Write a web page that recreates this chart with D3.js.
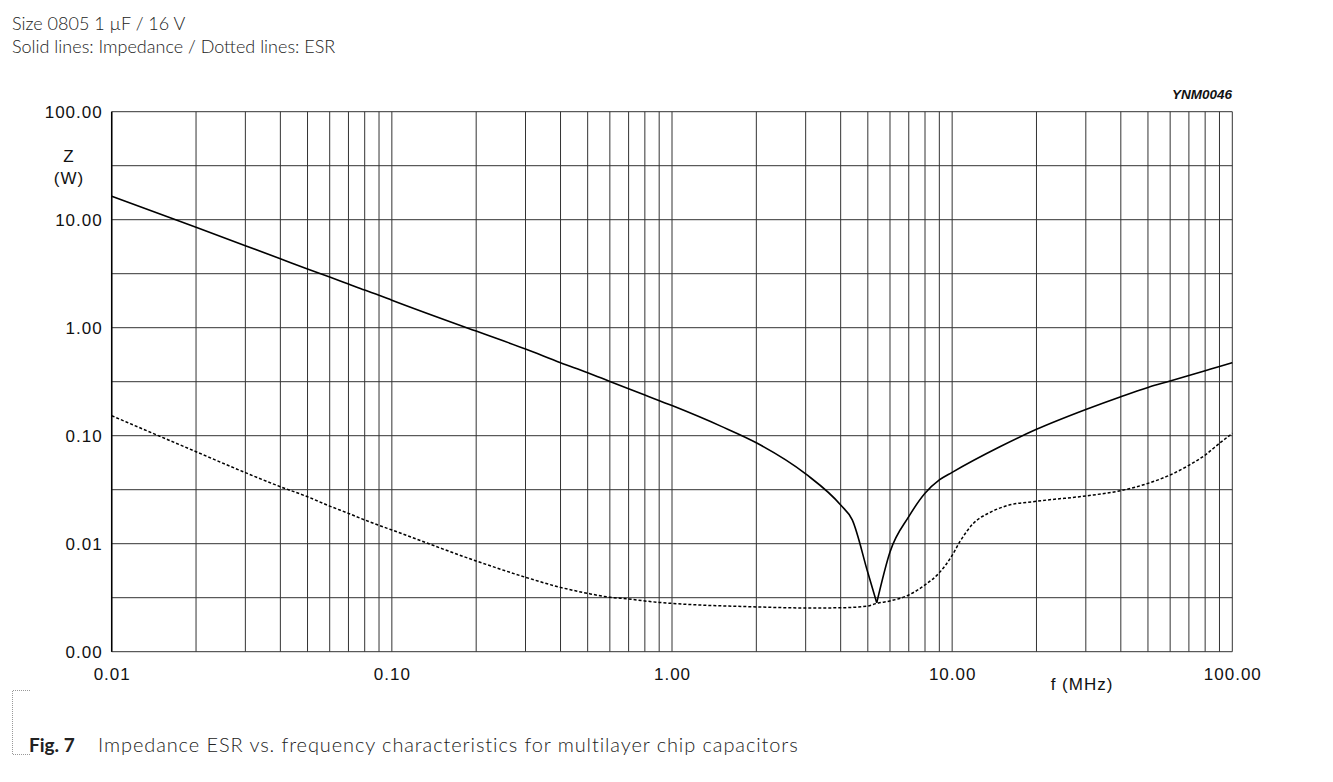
<!DOCTYPE html>
<html>
<head>
<meta charset="utf-8">
<script src="https://cdn.jsdelivr.net/npm/d3@7"></script>
<style>
  body { margin: 0; background: #fff; }
  .note { font-family: Lato, "Open Sans", sans-serif; font-weight: 300; fill: #222; }
  .tick text, .lbl { font-family: "Liberation Sans", Arial, sans-serif; fill: #111; }
</style>
</head>
<body>
<svg id="chart" width="1333" height="782"></svg>
<script>
// frequency (MHz) and impedance (ohm)
const zFreq = [0.01, 0.02, 0.03, 0.04, 0.05, 0.06, 0.07, 0.08, 0.09, 0.1, 0.2, 0.3, 0.4, 0.5, 0.6, 0.8, 1, 1.5, 2, 3, 4, 4.4, 5, 5.38, 6, 7, 8, 9, 10, 14.8, 20, 30, 40, 50, 60, 70, 80, 90, 100];
const zVal  = [16.5, 8.5, 5.75, 4.35, 3.5, 2.95, 2.54, 2.23, 2.0, 1.8, 0.93, 0.635, 0.474, 0.383, 0.318, 0.238, 0.19, 0.122, 0.086, 0.0443, 0.0228, 0.0166, 0.0054, 0.00284, 0.0084, 0.0178, 0.0293, 0.0389, 0.0458, 0.079, 0.1146, 0.175, 0.23, 0.28, 0.321, 0.361, 0.4, 0.438, 0.474];

// ESR (ohm)
const esrFreq = [0.01, 0.02, 0.03, 0.04, 0.05, 0.06, 0.07, 0.08, 0.09, 0.1, 0.2, 0.3, 0.4, 0.5, 0.6, 0.7, 0.8, 0.9, 1, 2, 3, 4, 5, 5.38, 6, 7, 8, 9, 10, 10.67, 11.9, 13.6, 15.7, 20, 30, 40, 50, 60, 70, 80, 90, 100];
const esrVal  = [0.153, 0.0711, 0.0455, 0.0337, 0.0272, 0.0223, 0.0191, 0.0166, 0.0148, 0.0134, 0.00692, 0.00489, 0.00394, 0.00347, 0.00319, 0.00308, 0.00295, 0.00286, 0.0028, 0.0026, 0.00254, 0.00255, 0.00265, 0.0028, 0.00295, 0.00335, 0.00415, 0.00538, 0.0078, 0.0105, 0.0154, 0.0194, 0.0225, 0.0247, 0.0277, 0.031, 0.0362, 0.0433, 0.0532, 0.0662, 0.0851, 0.105];

const xTicks = [0.01, 0.1, 1, 10, 100];
const yTicks = [0.001, 0.01, 0.1, 1, 10, 100];

const svg = d3.select('#chart');

let x = d3.scaleLog().domain([0.01, 100]).range([111.7, 1232.3]);
let y = d3.scaleLog().domain([0.001, 100]).range([651.7, 111.7]);

// grid lines: 1..9 per decade across, decade and half decade up
let xGrid = [];
xTicks.slice(0, -1).forEach(d => { for (let k = 1; k < 10; k++) xGrid.push(d * k); });
xGrid.push(100);
let yGrid = [];
yTicks.forEach(d => { yGrid.push(d); if (d < 100) yGrid.push(d * Math.sqrt(10)); });

let grid = svg.append('g').attr('stroke', '#333').attr('stroke-width', 1);
grid.selectAll('.vx').data(xGrid).enter().append('line')
    .attr('x1', d => x(d)).attr('x2', d => x(d))
    .attr('y1', y(100)).attr('y2', y(0.001));
grid.selectAll('.hy').data(yGrid).enter().append('line')
    .attr('x1', x(0.01)).attr('x2', x(100))
    .attr('y1', d => y(d)).attr('y2', d => y(d));

svg.append('line').attr('x1', x(0.01)).attr('x2', x(0.01))
    .attr('y1', y(100)).attr('y2', y(0.001)).attr('stroke', '#000').attr('stroke-width', 1.5);

// axes
let yAxis = svg.append('g').attr('transform', `translate(${x(0.01)},0)`)
    .call(d3.axisLeft(y).tickValues(yTicks).tickFormat(d3.format('.2f')).tickSize(0).tickPadding(9));
let xAxis = svg.append('g').attr('transform', `translate(0,${y(0.001)})`)
    .call(d3.axisBottom(x).tickValues(xTicks).tickFormat(d3.format('.2f')).tickSize(0).tickPadding(16));
[xAxis, yAxis].forEach(a => {
  a.select('.domain').remove();
  a.selectAll('text').attr('font-size', 17).attr('letter-spacing', 1);
});

// curves: impedance drawn as two branches meeting at the resonance dip
let line = d3.line().x(d => x(d[0])).y(d => y(d[1])).curve(d3.curveMonotoneX);
let zPts = d3.zip(zFreq, zVal);
let iMin = d3.minIndex(zVal);
[zPts.slice(0, iMin + 1), zPts.slice(iMin)].forEach(seg => {
  svg.append('path')
      .attr('d', line(seg))
      .attr('fill', 'none').attr('stroke', '#000').attr('stroke-width', 1.6);
});
svg.append('path')
    .attr('d', line(d3.zip(esrFreq, esrVal)))
    .attr('fill', 'none').attr('stroke', '#000').attr('stroke-width', 1.5)
    .attr('stroke-dasharray', '3,2');

// labels
svg.append('text').attr('class', 'lbl').attr('x', 69).attr('y', 162).attr('text-anchor', 'middle').attr('font-size', 17).attr('letter-spacing', 1).text('Z');
svg.append('text').attr('class', 'lbl').attr('x', 69).attr('y', 184).attr('text-anchor', 'middle').attr('font-size', 17).attr('letter-spacing', 1).text('(W)');
svg.append('text').attr('class', 'lbl').attr('x', 1082).attr('y', 690).attr('text-anchor', 'middle').attr('font-size', 17).attr('letter-spacing', 1).text('f  (MHz)');
svg.append('text').attr('class', 'lbl').attr('x', 1232).attr('y', 99).attr('text-anchor', 'end')
    .attr('font-size', 13.5).attr('font-style', 'italic').attr('font-weight', 'bold').attr('fill', '#222').text('YNM0046');

svg.append('text').attr('class', 'note').attr('x', 12).attr('y', 30).attr('font-size', 18).text('Size 0805  1  µF / 16 V');
svg.append('text').attr('class', 'note').attr('x', 12).attr('y', 53).attr('font-size', 18).text('Solid lines: Impedance / Dotted lines: ESR');

// caption with dotted bracket
svg.append('path').attr('d', 'M30,690.5 H12.5 V754.5 H30')
    .attr('fill', 'none').attr('stroke', '#999').attr('stroke-width', 1).attr('stroke-dasharray', '1,1');
let cap = svg.append('text').attr('class', 'note').attr('x', 29).attr('y', 752).attr('font-size', 19);
cap.append('tspan').attr('font-weight', 700).text('Fig. 7');
cap.append('tspan').attr('x', 98).attr('letter-spacing', 0.9).attr('font-size', 20).text('Impedance ESR vs. frequency characteristics for multilayer chip capacitors');
</script>
</body>
</html>
